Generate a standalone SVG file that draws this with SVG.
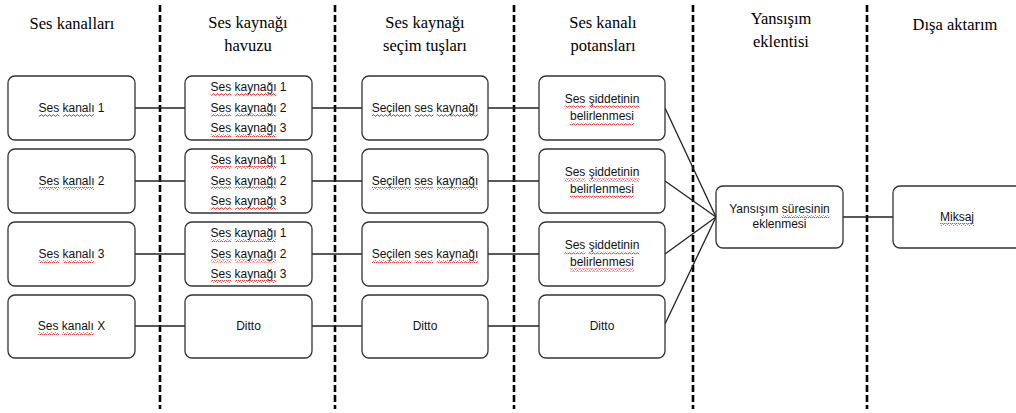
<svg xmlns="http://www.w3.org/2000/svg" width="1016" height="413" viewBox="0 0 1016 413">
<defs>
<pattern id="sq" width="4" height="3" patternUnits="userSpaceOnUse">
<path d="M0 2.2 L1 0.8 L2 0.8 L3 2.2 L4 2.2" fill="none" stroke="#e0302a" stroke-width="0.9"/>
</pattern>
<style>
.div{stroke:#000;stroke-width:2.6;stroke-dasharray:7 3;fill:none}
.box{fill:#fff;stroke:#333;stroke-width:1.3}
.hd{font-family:'Liberation Serif','DejaVu Serif','Times New Roman',serif;font-size:16.5px;fill:#000;text-anchor:middle}
.t{font-family:'Liberation Sans',Arial,sans-serif;font-size:12px;fill:#111;text-anchor:middle}
.sq{fill:url(#sq)}
.c{stroke:#222;stroke-width:1.3;fill:none}
</style>
</defs>
<rect width="1016" height="413" fill="#fff"/>

<g id="dividers">
<line class="div" x1="160" y1="5" x2="160" y2="409"/>
<line class="div" x1="335" y1="5" x2="335" y2="409"/>
<line class="div" x1="514" y1="5" x2="514" y2="409"/>
<line class="div" x1="693" y1="5" x2="693" y2="409"/>
<line class="div" x1="867" y1="5" x2="867" y2="409"/>
</g>

<g id="headers" font-family="Liberation Serif, DejaVu Serif, serif">
<text class="hd" x="72" y="29">Ses kanalları</text>
<text class="hd" x="248" y="28">Ses kaynağı</text>
<text class="hd" x="248" y="51">havuzu</text>
<text class="hd" x="425" y="28">Ses kaynağı</text>
<text class="hd" x="425" y="51">seçim tuşları</text>
<text class="hd" x="603" y="28">Ses kanalı</text>
<text class="hd" x="603" y="51">potansları</text>
<text class="hd" x="781" y="24">Yansışım</text>
<text class="hd" x="781" y="47">eklentisi</text>
<text class="hd" x="955" y="30">Dışa aktarım</text>
</g>

<g id="connectors">
<line class="c" x1="135" y1="108" x2="185" y2="108"/>
<line class="c" x1="312" y1="108" x2="362" y2="108"/>
<line class="c" x1="488" y1="108" x2="539" y2="108"/>
<line class="c" x1="135" y1="181" x2="185" y2="181"/>
<line class="c" x1="312" y1="181" x2="362" y2="181"/>
<line class="c" x1="488" y1="181" x2="539" y2="181"/>
<line class="c" x1="135" y1="254" x2="185" y2="254"/>
<line class="c" x1="312" y1="254" x2="362" y2="254"/>
<line class="c" x1="488" y1="254" x2="539" y2="254"/>
<line class="c" x1="135" y1="326" x2="185" y2="326"/>
<line class="c" x1="312" y1="326" x2="362" y2="326"/>
<line class="c" x1="488" y1="326" x2="539" y2="326"/>
<line class="c" x1="665" y1="108" x2="716" y2="217"/>
<line class="c" x1="665" y1="181" x2="716" y2="217"/>
<line class="c" x1="665" y1="254" x2="716" y2="217"/>
<line class="c" x1="665" y1="324" x2="716" y2="217"/>
<line class="c" x1="843" y1="217" x2="893" y2="217"/>
</g>

<!-- Column 1 -->
<g id="ch1">
<rect class="box" x="8" y="76" width="127" height="64" rx="7"/>
<text class="t" x="71.5" y="112">Ses kanalı 1</text>
<rect class="sq" x="38.8" y="114" width="20.7" height="3"/>
<rect class="sq" x="62.8" y="114" width="31.3" height="3"/>
</g>
<g id="ch2">
<rect class="box" x="8" y="149" width="127" height="64" rx="7"/>
<text class="t" x="71.5" y="185">Ses kanalı 2</text>
<rect class="sq" x="38.8" y="187" width="20.7" height="3"/>
<rect class="sq" x="62.8" y="187" width="31.3" height="3"/>
</g>
<g id="ch3">
<rect class="box" x="8" y="222" width="127" height="64" rx="7"/>
<text class="t" x="71.5" y="258">Ses kanalı 3</text>
<rect class="sq" x="38.8" y="260" width="20.7" height="3"/>
<rect class="sq" x="62.8" y="260" width="31.3" height="3"/>
</g>
<g id="chX">
<rect class="box" x="8" y="295" width="127" height="63" rx="7"/>
<text class="t" x="71.5" y="330">Ses kanalı X</text>
<rect class="sq" x="38.2" y="332" width="20.7" height="3"/>
<rect class="sq" x="62.2" y="332" width="31.3" height="3"/>
</g>

<!-- Column 2 -->
<g id="pool1">
<rect class="box" x="185" y="76" width="127" height="64" rx="7"/>
<text class="t" x="248.5" y="91">Ses kaynağı 1</text>
<text class="t" x="248.5" y="111.5">Ses kaynağı 2</text>
<text class="t" x="248.5" y="132">Ses kaynağı 3</text>
<rect class="sq" x="210.8" y="93" width="20.7" height="3"/>
<rect class="sq" x="234.8" y="93" width="41.4" height="3"/>
<rect class="sq" x="210.8" y="113.5" width="20.7" height="3"/>
<rect class="sq" x="234.8" y="113.5" width="41.4" height="3"/>
<rect class="sq" x="210.8" y="134" width="20.7" height="3"/>
<rect class="sq" x="234.8" y="134" width="41.4" height="3"/>
</g>
<g id="pool2">
<rect class="box" x="185" y="149" width="127" height="64" rx="7"/>
<text class="t" x="248.5" y="164">Ses kaynağı 1</text>
<text class="t" x="248.5" y="184.5">Ses kaynağı 2</text>
<text class="t" x="248.5" y="205">Ses kaynağı 3</text>
<rect class="sq" x="210.8" y="166" width="20.7" height="3"/>
<rect class="sq" x="234.8" y="166" width="41.4" height="3"/>
<rect class="sq" x="210.8" y="186.5" width="20.7" height="3"/>
<rect class="sq" x="234.8" y="186.5" width="41.4" height="3"/>
<rect class="sq" x="210.8" y="207" width="20.7" height="3"/>
<rect class="sq" x="234.8" y="207" width="41.4" height="3"/>
</g>
<g id="pool3">
<rect class="box" x="185" y="222" width="127" height="64" rx="7"/>
<text class="t" x="248.5" y="237">Ses kaynağı 1</text>
<text class="t" x="248.5" y="257.5">Ses kaynağı 2</text>
<text class="t" x="248.5" y="278">Ses kaynağı 3</text>
<rect class="sq" x="210.8" y="239" width="20.7" height="3"/>
<rect class="sq" x="234.8" y="239" width="41.4" height="3"/>
<rect class="sq" x="210.8" y="259.5" width="20.7" height="3"/>
<rect class="sq" x="234.8" y="259.5" width="41.4" height="3"/>
<rect class="sq" x="210.8" y="280" width="20.7" height="3"/>
<rect class="sq" x="234.8" y="280" width="41.4" height="3"/>
</g>
<g id="poolX">
<rect class="box" x="185" y="295" width="127" height="63" rx="7"/>
<text class="t" x="248.5" y="330">Ditto</text>
</g>

<!-- Column 3 -->
<g id="sel1">
<rect class="box" x="362" y="76" width="126" height="64" rx="7"/>
<text class="t" x="425" y="112">Seçilen ses kaynağı</text>
<rect class="sq" x="372" y="114" width="39.3" height="3"/>
<rect class="sq" x="414.7" y="114" width="18.7" height="3"/>
<rect class="sq" x="436.7" y="114" width="41.3" height="3"/>
</g>
<g id="sel2">
<rect class="box" x="362" y="149" width="126" height="64" rx="7"/>
<text class="t" x="425" y="185">Seçilen ses kaynağı</text>
<rect class="sq" x="372" y="187" width="39.3" height="3"/>
<rect class="sq" x="414.7" y="187" width="18.7" height="3"/>
<rect class="sq" x="436.7" y="187" width="41.3" height="3"/>
</g>
<g id="sel3">
<rect class="box" x="362" y="222" width="126" height="64" rx="7"/>
<text class="t" x="425" y="258">Seçilen ses kaynağı</text>
<rect class="sq" x="372" y="260" width="39.3" height="3"/>
<rect class="sq" x="414.7" y="260" width="18.7" height="3"/>
<rect class="sq" x="436.7" y="260" width="41.3" height="3"/>
</g>
<g id="selX">
<rect class="box" x="362" y="295" width="126" height="63" rx="7"/>
<text class="t" x="425" y="330">Ditto</text>
</g>

<!-- Column 4 -->
<g id="pot1">
<rect class="box" x="539" y="76" width="126" height="64" rx="7"/>
<text class="t" x="602" y="103">Ses şiddetinin</text>
<text class="t" x="602" y="120">belirlenmesi</text>
<rect class="sq" x="564.7" y="105.5" width="20.7" height="3"/>
<rect class="sq" x="588.7" y="105.5" width="50.7" height="3"/>
<rect class="sq" x="570" y="122.5" width="64" height="3"/>
</g>
<g id="pot2">
<rect class="box" x="539" y="149" width="126" height="64" rx="7"/>
<text class="t" x="602" y="176">Ses şiddetinin</text>
<text class="t" x="602" y="193">belirlenmesi</text>
<rect class="sq" x="564.7" y="178.5" width="20.7" height="3"/>
<rect class="sq" x="588.7" y="178.5" width="50.7" height="3"/>
<rect class="sq" x="570" y="195.5" width="64" height="3"/>
</g>
<g id="pot3">
<rect class="box" x="539" y="222" width="126" height="64" rx="7"/>
<text class="t" x="602" y="249">Ses şiddetinin</text>
<text class="t" x="602" y="266">belirlenmesi</text>
<rect class="sq" x="564.7" y="251.5" width="20.7" height="3"/>
<rect class="sq" x="588.7" y="251.5" width="50.7" height="3"/>
<rect class="sq" x="570" y="268.5" width="64" height="3"/>
</g>
<g id="potX">
<rect class="box" x="539" y="295" width="126" height="63" rx="7"/>
<text class="t" x="602" y="330">Ditto</text>
</g>

<!-- Column 5 -->
<g id="reverb">
<rect class="box" x="716" y="186" width="127" height="62" rx="7"/>
<text class="t" x="779.5" y="213">Yansışım süresinin</text>
<text class="t" x="779.5" y="228">eklenmesi</text>
<rect class="sq" x="781.5" y="215" width="48" height="3"/>
</g>

<!-- Column 6 -->
<g id="mix">
<rect class="box" x="893" y="186" width="130" height="62" rx="7"/>
<text class="t" x="957" y="221">Miksaj</text>
<rect class="sq" x="940" y="223" width="34" height="3"/>
</g>
</svg>
